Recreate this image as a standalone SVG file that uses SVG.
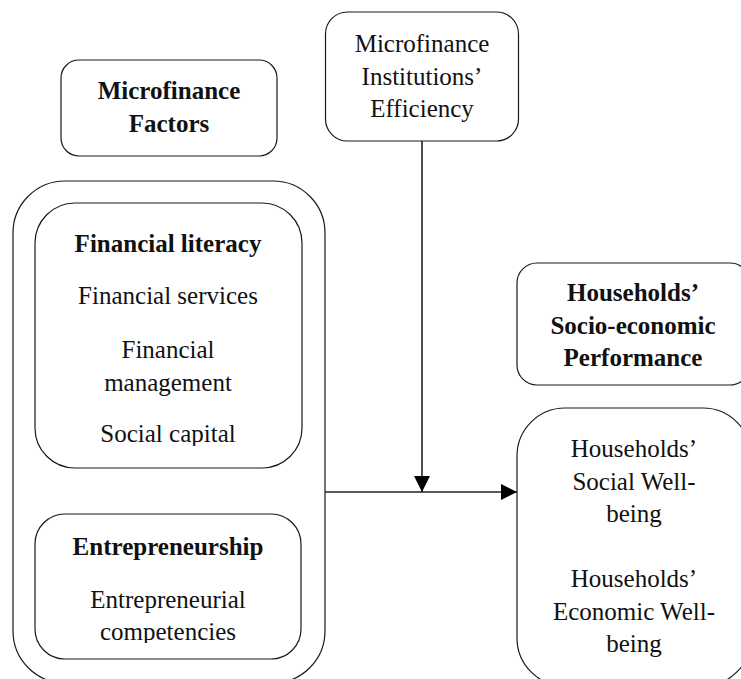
<svg xmlns="http://www.w3.org/2000/svg" width="741" height="679" viewBox="0 0 741 679">
<style>
.box{fill:#fff;stroke:#1a1a1a;stroke-width:1.2}
.t{font-family:"Liberation Serif","Times New Roman",serif;font-size:25px;fill:#111;text-anchor:middle}
.b{font-weight:bold}
.ln{stroke:#222;stroke-width:1.6;fill:none}
</style>
<defs>
<marker id="ah" markerWidth="16" markerHeight="16" viewBox="0 0 16 16" refX="16" refY="8" orient="auto" markerUnits="userSpaceOnUse">
<path d="M0,0 L16,8 L0,16 Z" fill="#000"/>
</marker>
<clipPath id="c1"><rect x="35" y="203" width="267" height="243"/></clipPath>
<clipPath id="c2"><rect x="35" y="514" width="267" height="129"/></clipPath>
</defs>
<rect width="741" height="679" fill="#fff"/>
<g id="mf-factors">
<rect class="box" x="61" y="60" width="216" height="96" rx="18"/>
<text class="t b" x="169" y="99">Microfinance</text>
<text class="t b" x="169" y="132">Factors</text>
</g>
<g id="mfi-efficiency">
<rect class="box" x="325.5" y="12" width="193" height="129" rx="22"/>
<text class="t" x="422" y="52">Microfinance</text>
<text class="t" x="422" y="84.5">Institutions’</text>
<text class="t" x="422" y="117">Efficiency</text>
</g>
<g id="factors-group">
<rect class="box" x="13" y="181" width="312" height="502" rx="52"/>
</g>
<g id="financial-literacy">
<rect class="box" x="35" y="203" width="267" height="265" rx="40"/>
<g clip-path="url(#c1)">
<text class="t b" x="168" y="252">Financial literacy</text>
<text class="t" x="168" y="304">Financial services</text>
<text class="t" x="168" y="358">Financial</text>
<text class="t" x="168" y="391">management</text>
<text class="t" x="168" y="442">Social capital</text>
</g>
</g>
<g id="entrepreneurship">
<rect class="box" x="35" y="514" width="266" height="145" rx="30"/>
<g clip-path="url(#c2)">
<text class="t b" x="168" y="555">Entrepreneurship</text>
<text class="t" x="168" y="608">Entrepreneurial</text>
<text class="t" x="168" y="640">competencies</text>
</g>
</g>
<g id="hh-performance">
<rect class="box" x="517" y="263" width="233" height="122" rx="20"/>
<text class="t b" x="633" y="301">Households’</text>
<text class="t b" x="633" y="334">Socio-economic</text>
<text class="t b" x="633" y="366">Performance</text>
</g>
<g id="hh-wellbeing">
<rect class="box" x="517" y="408" width="234" height="278" rx="48"/>
<text class="t" x="634" y="457">Households’</text>
<text class="t" x="634" y="490">Social Well-</text>
<text class="t" x="634" y="522">being</text>
<text class="t" x="634" y="587">Households’</text>
<text class="t" x="634" y="620">Economic Well-</text>
<text class="t" x="634" y="652">being</text>
</g>
<g id="connectors">
<line class="ln" x1="325" y1="492" x2="517" y2="492" marker-end="url(#ah)"/>
<line class="ln" x1="422" y1="141" x2="422" y2="492" marker-end="url(#ah)"/>
</g>
</svg>
